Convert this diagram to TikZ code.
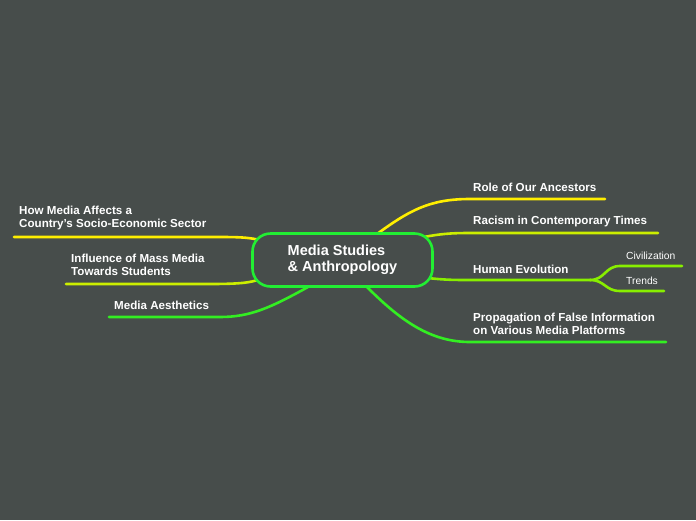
\documentclass[tikz,border=0pt]{standalone}
\usepackage{fontspec}
\setmainfont{Liberation Sans}
\begin{document}
\begin{tikzpicture}[x=1pt,y=-1pt,
  br/.style={line width=2.6pt,line cap=round},
  lbl/.style={anchor=west,inner sep=0pt,text=white,font=\fontsize{11.6}{13.5}\selectfont\bfseries,align=left},
  sml/.style={anchor=west,inner sep=0pt,text=white,font=\fontsize{10.3}{12}\selectfont}]
\definecolor{bg}{HTML}{474D4B}
\definecolor{cy}{HTML}{FFEE00}
\definecolor{cyg}{HTML}{CCEE00}
\definecolor{cg}{HTML}{88EE00}
\definecolor{cgr}{HTML}{33EE22}
\definecolor{cc}{HTML}{22EE33}
\fill[bg] (0,0) rectangle (696,520);
\useasboundingbox (0,0) rectangle (696,520);
% branches
\coordinate (a1) at (605,199); \coordinate (a2) at (658,233);
\coordinate (a3) at (590,280); \coordinate (a4) at (666,342);
\coordinate (c1) at (682,266); \coordinate (c2) at (664,291);
\coordinate (l1) at (14,237); \coordinate (l2) at (66,284); \coordinate (l3) at (109,317);
\draw[br,cy] (377,234) .. controls (410,210) and (430,199) .. (470,199) -- (a1);
\draw[br,cyg] (424,237) .. controls (440,234) and (450,233) .. (470,233) -- (a2);
\draw[br,cg] (428,278) .. controls (445,280) and (455,280) .. (470,280) -- (a3);
\draw[br,cg] (a3) .. controls (605,280) and (605,266) .. (620,266) -- (c1);
\draw[br,cg] (a3) .. controls (605,280) and (605,291) .. (620,291) -- (c2);
\draw[br,cgr] (367,287) .. controls (400,320) and (430,342) .. (470,342) -- (a4);
\draw[br,cy] (260,240) .. controls (250,238) and (245,237) .. (220,237) -- (l1);
\draw[br,cyg] (258,280) .. controls (250,282) and (245,284) .. (210,284) -- (l2);
\draw[br,cgr] (308,287) .. controls (270,308) and (250,317) .. (220,317) -- (l3);
% center
\node[draw=cc,line width=2.6pt,fill=bg,rounded corners=18pt,minimum width=180pt,minimum height=53pt,
  text=white,font=\fontsize{14.5}{16}\selectfont\bfseries,align=left] (c) at (342.5,260) {Media Studies\\\& Anthropology};
% labels
\node[lbl] (t1) at (473,187) {Role of Our Ancestors};
\node[lbl] (t2) at (473,221) {Racism in Contemporary Times};
\node[lbl] (t3) at (473,269) {Human Evolution};
\node[sml] (t5) at (626,256) {Civilization};
\node[sml] (t6) at (626,281) {Trends};
\node[lbl] (t4) at (473,324) {Propagation of False Information\\on Various Media Platforms};
\node[lbl] (t7) at (19,218) {How Media Affects a\\Country's Socio-Economic Sector};
\node[lbl] (t8) at (71,265) {Influence of Mass Media\\Towards Students};
\node[lbl] (t9) at (114,305) {Media Aesthetics};
\end{tikzpicture}
\end{document}
